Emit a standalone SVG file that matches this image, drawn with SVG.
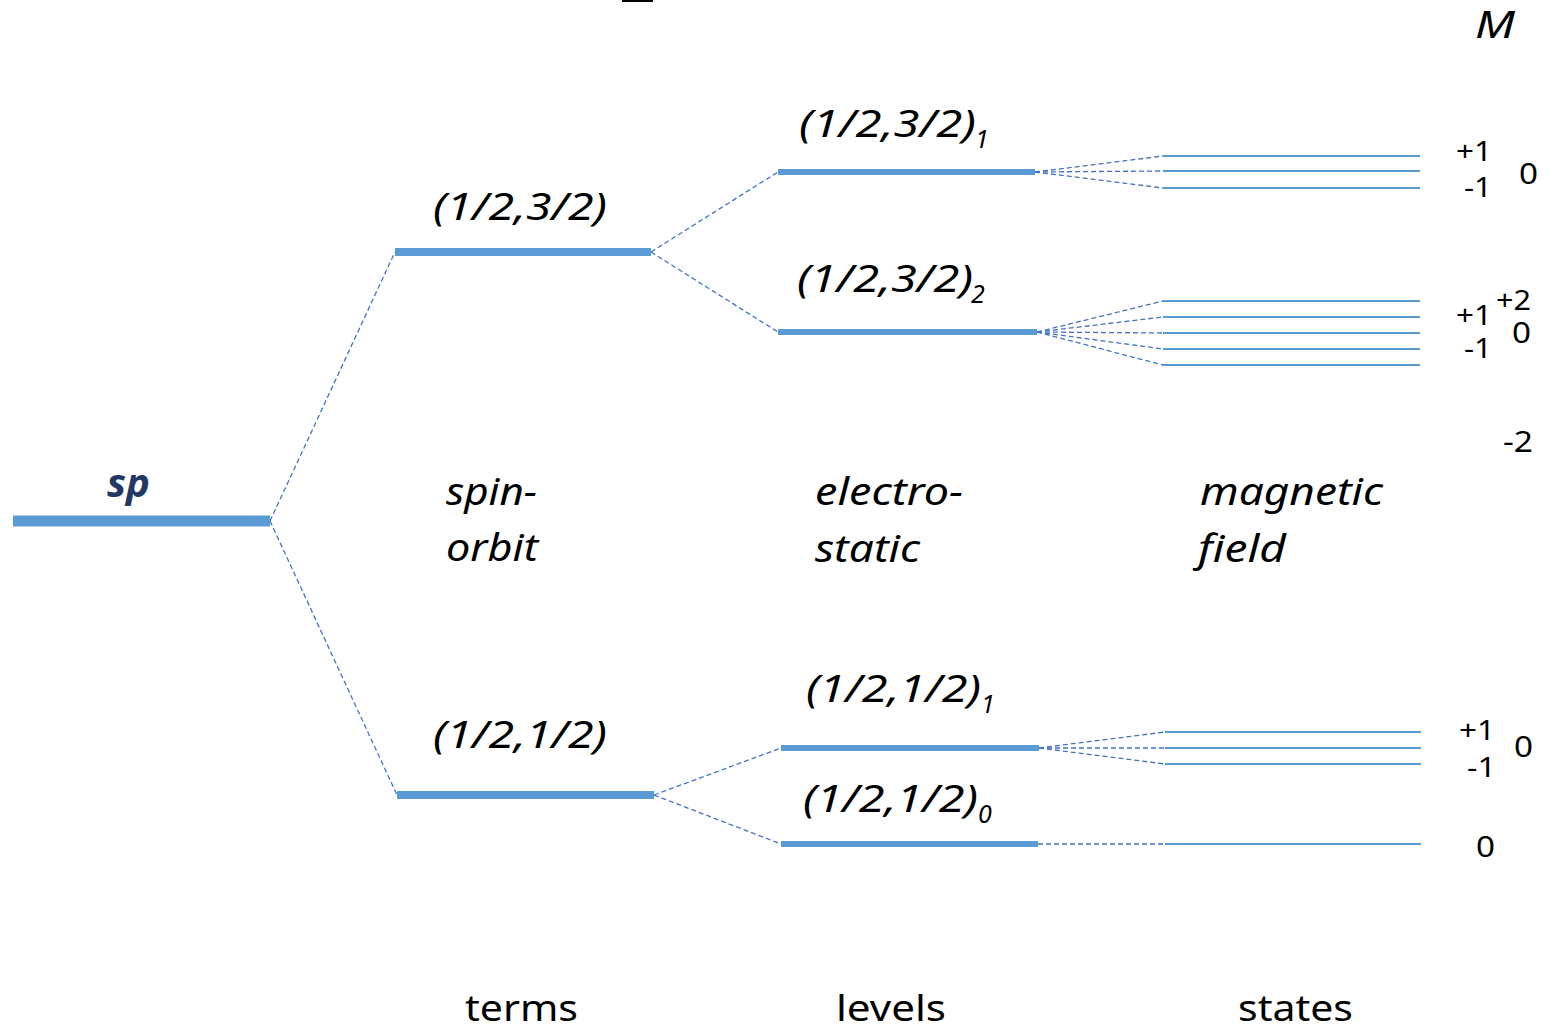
<svg xmlns="http://www.w3.org/2000/svg" width="1549" height="1030" viewBox="0 0 1549 1030">
  <style>
    .bar { stroke: #5B9BD5; stroke-linecap: butt; }
    .term { stroke-width: 8; }
    .lev { stroke-width: 6; }
    .st { stroke: #5B9BD5; stroke-width: 2; }
    .dash { stroke: #4472C4; stroke-width: 1.3; stroke-dasharray: 5 3; fill: none; }
    text { font-family: "Noto Sans", "Open Sans", sans-serif; fill: #000; font-variant-numeric: lining-nums; }
    .it { font-style: italic; font-size: 38px; }
    .sub { font-style: italic; font-size: 25px; }
    .cap { font-size: 36px; }
    .num { font-size: 27px; }
    .big { font-size: 29px; }
  </style>

  <rect x="622" y="0" width="31" height="2" fill="#000"/>

  <!-- splitting connectors -->
  <g id="connectors">
    <line class="dash" x1="270" y1="521" x2="395" y2="252"/>
    <line class="dash" x1="270" y1="521" x2="397" y2="795"/>
    <line class="dash" x1="651" y1="252" x2="778" y2="172"/>
    <line class="dash" x1="651" y1="252" x2="778" y2="332"/>
    <line class="dash" x1="654" y1="795" x2="781" y2="748"/>
    <line class="dash" x1="654" y1="795" x2="781" y2="844"/>
    <line class="dash" x1="1035" y1="172" x2="1163" y2="156"/>
    <line class="dash" x1="1035" y1="172" x2="1163" y2="171"/>
    <line class="dash" x1="1035" y1="172" x2="1163" y2="188"/>
    <line class="dash" x1="1037" y1="332" x2="1163" y2="301"/>
    <line class="dash" x1="1037" y1="332" x2="1163" y2="317"/>
    <line class="dash" x1="1037" y1="332" x2="1163" y2="333"/>
    <line class="dash" x1="1037" y1="332" x2="1163" y2="349"/>
    <line class="dash" x1="1037" y1="332" x2="1163" y2="365"/>
    <line class="dash" x1="1039" y1="748" x2="1165" y2="732"/>
    <line class="dash" x1="1039" y1="748" x2="1165" y2="748"/>
    <line class="dash" x1="1039" y1="748" x2="1165" y2="764"/>
    <line class="dash" x1="1038" y1="844" x2="1165" y2="844"/>
  </g>

  <!-- configuration -->
  <g id="sp">
    <line class="bar" x1="13" y1="521" x2="270" y2="521" stroke-width="11"/>
    <text x="107" y="497" font-size="40" font-weight="bold" font-style="italic" style="fill:#1F3864" textLength="43" lengthAdjust="spacingAndGlyphs">sp</text>
  </g>

  <!-- terms -->
  <g id="term-32">
    <line class="bar term" x1="395" y1="252" x2="651" y2="252"/>
    <text class="it" x="433" y="220" textLength="174" lengthAdjust="spacingAndGlyphs">(1/2,3/2)</text>
  </g>
  <g id="term-12">
    <line class="bar term" x1="397" y1="795" x2="654" y2="795"/>
    <text class="it" x="433" y="748" textLength="174" lengthAdjust="spacingAndGlyphs">(1/2,1/2)</text>
  </g>

  <!-- levels -->
  <g id="level-32-1">
    <line class="bar lev" x1="778" y1="172" x2="1035" y2="172"/>
    <text class="it" x="799" y="137" textLength="177" lengthAdjust="spacingAndGlyphs">(1/2,3/2)</text>
    <text class="sub" x="975" y="148">1</text>
  </g>
  <g id="level-32-2">
    <line class="bar lev" x1="778" y1="332" x2="1037" y2="332"/>
    <text class="it" x="797" y="292" textLength="176" lengthAdjust="spacingAndGlyphs">(1/2,3/2)</text>
    <text class="sub" x="971" y="303">2</text>
  </g>
  <g id="level-12-1">
    <line class="bar lev" x1="781" y1="748" x2="1039" y2="748"/>
    <text class="it" x="806" y="702" textLength="175" lengthAdjust="spacingAndGlyphs">(1/2,1/2)</text>
    <text class="sub" x="981" y="713">1</text>
  </g>
  <g id="level-12-0">
    <line class="bar lev" x1="781" y1="844" x2="1038" y2="844"/>
    <text class="it" x="803" y="812" textLength="175" lengthAdjust="spacingAndGlyphs">(1/2,1/2)</text>
    <text class="sub" x="978" y="823">0</text>
  </g>

  <!-- magnetic sublevels -->
  <g id="states-32-1">
    <line class="st" x1="1163" y1="156" x2="1420" y2="156"/>
    <line class="st" x1="1163" y1="171" x2="1420" y2="171"/>
    <line class="st" x1="1163" y1="188" x2="1420" y2="188"/>
  </g>
  <g id="states-32-2">
    <line class="st" x1="1163" y1="301" x2="1420" y2="301"/>
    <line class="st" x1="1163" y1="317" x2="1420" y2="317"/>
    <line class="st" x1="1163" y1="333" x2="1420" y2="333"/>
    <line class="st" x1="1163" y1="349" x2="1420" y2="349"/>
    <line class="st" x1="1163" y1="365" x2="1420" y2="365"/>
  </g>
  <g id="states-12-1">
    <line class="st" x1="1165" y1="732" x2="1421" y2="732"/>
    <line class="st" x1="1165" y1="748" x2="1421" y2="748"/>
    <line class="st" x1="1165" y1="764" x2="1421" y2="764"/>
  </g>
  <g id="states-12-0">
    <line class="st" x1="1165" y1="844" x2="1421" y2="844"/>
  </g>

  <!-- M values -->
  <g id="m-values">
    <text class="it" x="1475" y="38" textLength="40" lengthAdjust="spacingAndGlyphs">M</text>
    <text class="num" x="1456" y="161" textLength="36" lengthAdjust="spacingAndGlyphs">+1</text>
    <text class="num" x="1464" y="197" textLength="28" lengthAdjust="spacingAndGlyphs">-1</text>
    <text class="big" x="1519" y="184" textLength="19" lengthAdjust="spacingAndGlyphs">0</text>
    <text class="num" x="1496" y="310" textLength="35" lengthAdjust="spacingAndGlyphs">+2</text>
    <text class="num" x="1456" y="325" textLength="36" lengthAdjust="spacingAndGlyphs">+1</text>
    <text class="big" x="1512" y="343" textLength="19" lengthAdjust="spacingAndGlyphs">0</text>
    <text class="num" x="1464" y="358" textLength="28" lengthAdjust="spacingAndGlyphs">-1</text>
    <text class="big" x="1503" y="452" textLength="30" lengthAdjust="spacingAndGlyphs">-2</text>
    <text class="num" x="1459" y="740" textLength="36" lengthAdjust="spacingAndGlyphs">+1</text>
    <text class="big" x="1514" y="757" textLength="19" lengthAdjust="spacingAndGlyphs">0</text>
    <text class="num" x="1467" y="777" textLength="29" lengthAdjust="spacingAndGlyphs">-1</text>
    <text class="big" x="1476" y="857" textLength="19" lengthAdjust="spacingAndGlyphs">0</text>
  </g>

  <!-- interaction captions -->
  <g id="caption-spin-orbit">
    <text class="it" x="446" y="505" textLength="91" lengthAdjust="spacingAndGlyphs">spin-</text>
    <text class="it" x="446" y="561" textLength="92" lengthAdjust="spacingAndGlyphs">orbit</text>
  </g>
  <g id="caption-electrostatic">
    <text class="it" x="815" y="505" textLength="148" lengthAdjust="spacingAndGlyphs">electro-</text>
    <text class="it" x="815" y="562" textLength="105" lengthAdjust="spacingAndGlyphs">static</text>
  </g>
  <g id="caption-magnetic">
    <text class="it" x="1200" y="505" textLength="183" lengthAdjust="spacingAndGlyphs">magnetic</text>
    <text class="it" x="1198" y="562" textLength="88" lengthAdjust="spacingAndGlyphs">field</text>
  </g>

  <!-- column headings -->
  <g id="heading-terms">
    <text class="cap" x="465" y="1021" textLength="113" lengthAdjust="spacingAndGlyphs">terms</text>
  </g>
  <g id="heading-levels">
    <text class="cap" x="836" y="1021" textLength="110" lengthAdjust="spacingAndGlyphs">levels</text>
  </g>
  <g id="heading-states">
    <text class="cap" x="1238" y="1021" textLength="115" lengthAdjust="spacingAndGlyphs">states</text>
  </g>
</svg>
